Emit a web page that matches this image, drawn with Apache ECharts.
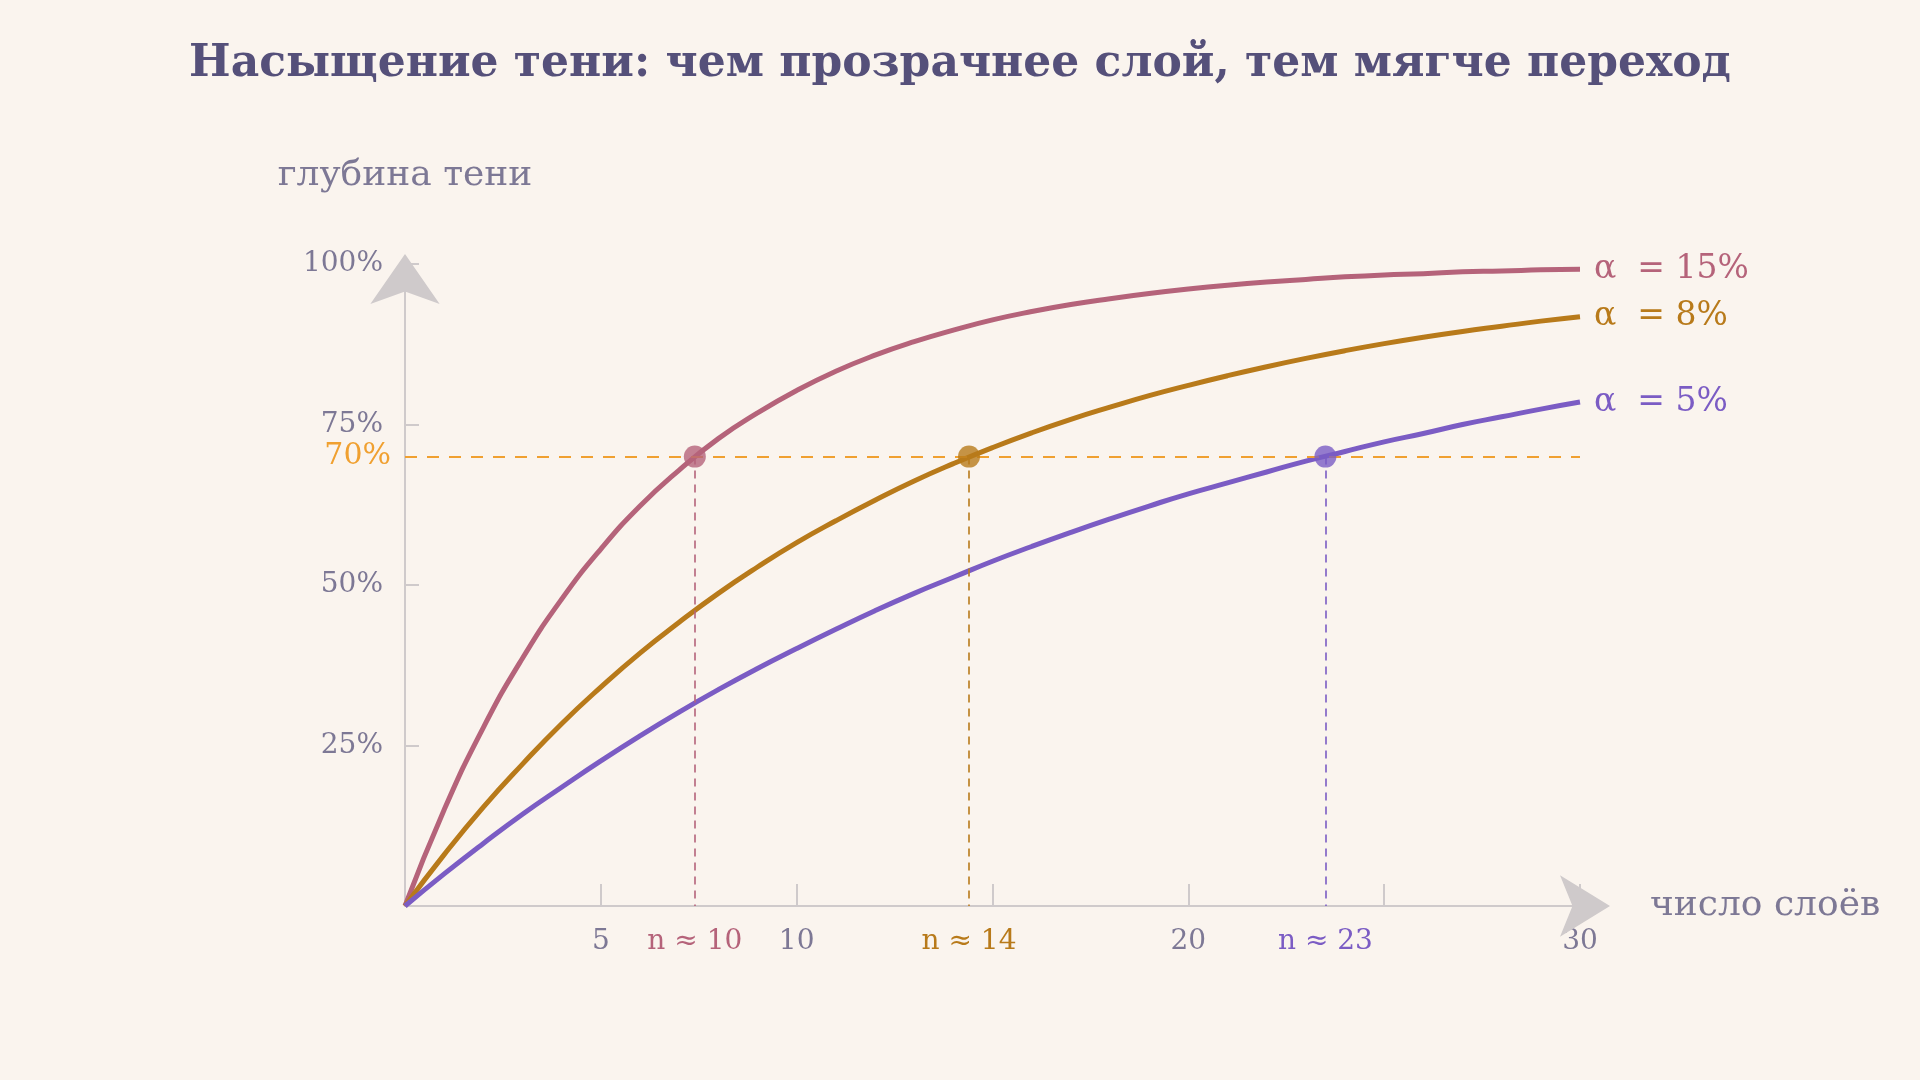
<!DOCTYPE html>
<html><head><meta charset="utf-8">
<script src="https://cdn.jsdelivr.net/npm/echarts@6/dist/echarts.min.js"></script>
<style>html,body{margin:0;background:#faf4ee}#c{width:1920px;height:1080px}</style>
</head><body><div id="c"></div>
<script>
const layers = [0,1,2,3,4,5,6,7,8,9,10,11,12,13,14,15,16,17,18,19,20,21,22,23,24,25,26,27,28,29,30];
const a15 = [0,15,27.8,38.6,47.8,55.6,62.3,67.9,72.8,76.8,80.3,83.3,85.8,87.9,89.7,91.3,92.6,93.7,94.6,95.4,96.1,96.7,97.2,97.6,98.0,98.3,98.5,98.8,98.9,99.1,99.2];
const a8 = [0,8,15.4,22.1,28.4,34.1,39.4,44.2,48.7,52.8,56.6,60.0,63.2,66.2,68.9,71.4,73.7,75.8,77.7,79.5,81.1,82.6,84.0,85.3,86.5,87.6,88.6,89.5,90.3,91.1,91.8];
const a5 = [0,5,9.75,14.3,18.5,22.6,26.5,30.2,33.7,37.0,40.1,43.1,46.0,48.7,51.2,53.7,56.0,58.2,60.3,62.3,64.2,65.9,67.6,69.3,70.8,72.3,73.6,75.0,76.2,77.4,78.5];
const names = ['α  = 15%','α  = 8%','α  = 5%'];
const colors = ['#b5637a','#b87a1a','#7b5cc4'];
const crossN = [7.4,14.4,23.5];
const crossLabels = ['n ≈ 10','n ≈ 14','n ≈ 23'];
const threshold = 70;
const xTickLabels = {5:'5',10:'10',20:'20',30:'30'};
const yTickLabels = {25:'25%',50:'50%',75:'75%',100:'100%'};
const font = 'DejaVu Serif';
const seriesData = [a15,a8,a5];
const series = seriesData.map((d,i)=>({
  type:'line', data: layers.map((x,j)=>[x,d[j]]), smooth:true, symbol:'none',
  lineStyle:{color:colors[i],width:5}, itemStyle:{color:colors[i]},
  endLabel:{show:true,formatter:names[i],color:colors[i],fontFamily:font,fontSize:33,distance:14},
  z:3,
  markLine:{silent:true,symbol:'none',
    lineStyle:{color:colors[i],type:[8,6],width:1.6},
    label:{show:true,position:'end',formatter:crossLabels[i],color:colors[i],fontFamily:font,fontSize:28,distance:22},
    data:[[{coord:[crossN[i],threshold]},{coord:[crossN[i],0]}]]}
}));
series.push({type:'scatter',data:crossN.map((n,i)=>({value:[n,threshold],itemStyle:{color:colors[i]}})),symbolSize:22,z:5,
  markLine:{silent:true,symbol:'none',lineStyle:{color:'#f0a030',type:[12,10],width:1.8},
    label:{show:true,position:'start',formatter:'70%',color:'#f0a030',fontFamily:font,fontSize:30,distance:14},
    data:[{yAxis:threshold}]}});
const chart = echarts.init(document.getElementById('c'));
chart.setOption({
  backgroundColor:'#faf4ee',
  title:{text:'Насыщение тени: чем прозрачнее слой, тем мягче переход',left:'center',top:38,
    textStyle:{fontFamily:font,fontWeight:'bold',fontSize:44,color:'#55507a'}},
  grid:{left:405,right:340,top:264,bottom:174},
  xAxis:{type:'value',min:0,max:30,interval:5,
    name:'число слоёв',nameLocation:'end',nameGap:70,nameTextStyle:{fontFamily:font,fontSize:36,color:'#7d7895',padding:[50,0,0,0]},
    axisLine:{lineStyle:{color:'#cfcacb',width:2},symbol:['none','arrow'],symbolSize:[46,50],symbolOffset:[0,30]},
    axisTick:{show:true,length:22,inside:true,lineStyle:{color:'#cfcacb',width:2}},
    splitLine:{show:false},
    axisLabel:{formatter:v=>xTickLabels[v]||'',color:'#7d7895',fontFamily:font,fontSize:28,margin:22}},
  yAxis:{type:'value',min:0,max:100,interval:25,
    name:'глубина тени',nameLocation:'end',nameGap:50,nameTextStyle:{fontFamily:font,fontSize:36,color:'#7d7895',align:'center',padding:[0,0,20,0]},
    axisLine:{show:true,lineStyle:{color:'#cfcacb',width:2},symbol:['none','arrow'],symbolSize:[52,50],symbolOffset:[0,10]},
    axisTick:{show:true,length:14,inside:true,lineStyle:{color:'#cfcacb',width:2}},
    splitLine:{show:false},
    axisLabel:{formatter:v=>yTickLabels[v]||'',color:'#7d7895',fontFamily:font,fontSize:28,margin:22}},
  series
});
</script></body></html>
